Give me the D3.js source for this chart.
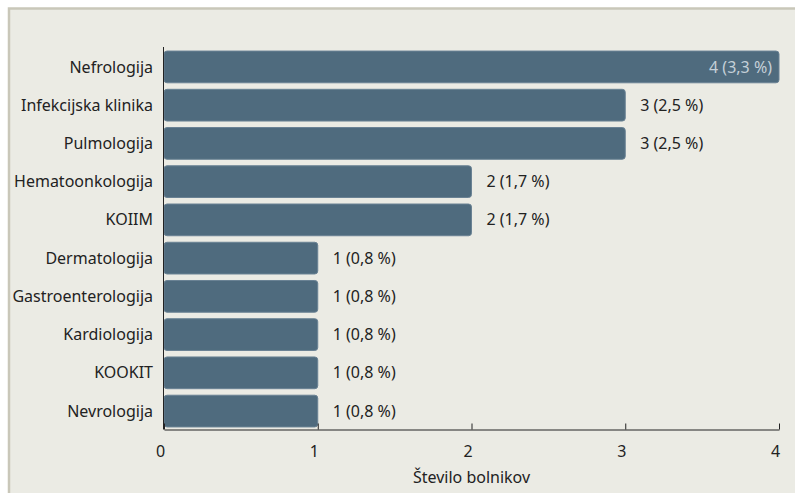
<!DOCTYPE html>
<html><head><meta charset="utf-8">
<script src="https://cdn.jsdelivr.net/npm/d3@7"></script>
<style>
html,body{margin:0;padding:0;background:#fff;}
svg{display:block;}
text{font-family:"Noto Sans", sans-serif;}
</style></head>
<body>
<script>
const categories = ["Nefrologija","Infekcijska klinika","Pulmologija","Hematoonkologija","KOIIM","Dermatologija","Gastroenterologija","Kardiologija","KOOKIT","Nevrologija"];
const values = [4,3,3,2,2,1,1,1,1,1];
const percents = ["3,3","2,5","2,5","1,7","1,7","0,8","0,8","0,8","0,8","0,8"];
const xTicks = [0,1,2,3,4];
const xTitle = "Število bolnikov";

const W = 795, H = 493;
const FONT = "'Noto Sans', sans-serif";
const FS = 16;
const svg = d3.select("body").append("svg").attr("width", W).attr("height", H);
// frame
svg.append("rect").attr("x", 9).attr("y", 8.5).attr("width", W + 20).attr("height", H + 20)
  .attr("fill", "#ebebe4").attr("stroke", "#c9c7b9").attr("stroke-width", 2.5);

const x = d3.scaleLinear().domain([0, 4]).range([164, 779]);
const y = d3.scaleBand().domain(categories).range([47, 429]).paddingInner(0.17).paddingOuter(0.08);

const g = svg.append("g");
g.selectAll("rect.bar").data(categories).join("rect").attr("class","bar")
  .attr("x", x(0)).attr("y", d => y(d) + 1)
  .attr("width", (d,i) => x(values[i]) - x(0))
  .attr("height", y.bandwidth())
  .attr("rx", 3).attr("ry", 3)
  .attr("fill", "#4f6b7e").attr("stroke", "#6a8294").attr("stroke-width", 1);

// category labels
g.selectAll("text.cat").data(categories).join("text").attr("class","cat")
  .attr("x", 153).attr("y", d => y(d) + 1 + y.bandwidth()/2)
  .attr("dy", "0.35em").attr("text-anchor", "end")
  .attr("font-size", FS).attr("fill", "#222").text(d => d);

// value labels
g.selectAll("text.val").data(categories).join("text").attr("class","val")
  .attr("x", (d,i) => values[i] === 4 ? x(values[i]) - 7 : x(values[i]) + 15)
  .attr("y", d => y(d) + 1 + y.bandwidth()/2)
  .attr("dy", "0.35em")
  .attr("text-anchor", (d,i) => values[i] === 4 ? "end" : "start")
  .attr("font-size", FS)
  .attr("fill", (d,i) => values[i] === 4 ? "#c5d0d8" : "#222")
  .text((d,i) => `${values[i]} (${percents[i]} %)`);

// y axis line
svg.append("line").attr("x1", 163.5).attr("x2", 163.5).attr("y1", 47).attr("y2", 429.5)
  .attr("stroke", "#222").attr("stroke-width", 1);

// x axis
const xAxis = d3.axisBottom(x).tickValues(xTicks).tickSize(-6).tickSizeOuter(0).tickFormat(d3.format("d"));
const ax = svg.append("g").attr("transform", "translate(0,429.5)").call(xAxis);
ax.select(".domain").attr("stroke", "#222");
ax.selectAll(".tick line").attr("stroke", "#222");
ax.selectAll(".tick text").attr("font-family", FONT).attr("font-size", FS)
  .attr("fill", "#222").attr("y", 16).attr("x", -4).attr("dy", "0.71em");

svg.append("text").attr("x", (x(0)+x(4))/2).attr("y", 483).attr("text-anchor", "middle")
  .attr("font-size", FS).attr("fill", "#222").text(xTitle);
</script>
</body></html>
